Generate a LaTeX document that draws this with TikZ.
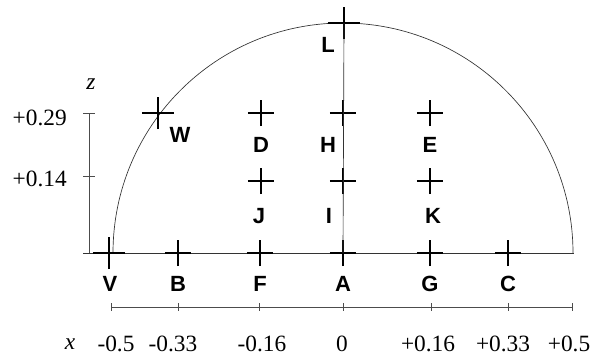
\documentclass[tikz,border=0pt]{standalone}
\usepackage{fontspec}
\setmainfont{Liberation Serif}
\setsansfont{Liberation Sans}
\usetikzlibrary{shapes.misc}
\tikzset{
  mk/.style={draw, cross out, rotate=45, line width=1.6pt, inner sep=0pt, outer sep=0pt, minimum size=13.8pt},
  bigmk/.style={mk, minimum size=17pt},
  lbl/.style={font=\sffamily\bfseries\fontsize{16.5}{18}\selectfont},
  num/.style={font=\fontsize{17.5}{19}\selectfont, inner sep=0pt},
  thin axis/.style={draw=black!70, line width=0.5pt},
}
\begin{document}
\begin{tikzpicture}[x=0.75pt, y=-0.75pt]
  \useasboundingbox (0,0) rectangle (592,361);
  % dome and base line
  \draw[line width=0.5pt, black!80] (113,253) arc[start angle=180, end angle=0, radius=172.5pt];
  \coordinate (b0) at (83,253);
  \coordinate (b1) at (574,253);
  \draw[line width=0.6pt, black!80] (b0) -- (b1);
  % measuring points
  \draw
    (109,253) node[bigmk] (V){}
    (178,253) node[mk] (B){}
    (260,253) node[mk] (F){}
    (343,253) node[mk] (A){}
    (430,253) node[mk] (G){}
    (508,253) node[mk] (C){}
    (261,181) node[mk] (J){}
    (343,181) node[mk] (I){}
    (430,181) node[mk] (K){}
    (261,113) node[mk] (D){}
    (343,113) node[mk] (H){}
    (430,113) node[mk] (E){}
    (158,113) node[bigmk] (W){}
    (344,23) node[bigmk] (L){};
  \draw[line width=0.5pt, black!80] (L.center) -- (A.center);
  % point names
  \draw[lbl]
    (110,284) node (tV){V}
    (178,284) node (tB){B}
    (260,284) node (tF){F}
    (343,284) node (tA){A}
    (430,284) node (tG){G}
    (508,284) node (tC){C}
    (259,216) node (tJ){J}
    (329,216) node (tI){I}
    (433,216) node (tK){K}
    (261,145) node (tD){D}
    (328,145) node (tH){H}
    (430,145) node (tE){E}
    (180,135) node (tW){W}
    (328,45) node (tL){L};
  % z axis
  \coordinate (z0) at (89,253);
  \coordinate (z1) at (89,113);
  \coordinate (z2) at (89,176);
  \draw[thin axis] (z0) -- (z1);
  \draw[thin axis] ([xshift=-4.5pt]z1) -- ([xshift=4.5pt]z1);
  \draw[thin axis] ([xshift=-4.5pt]z2) -- ([xshift=4.5pt]z2);
  \draw[num] (91,84) node (zl){\itshape z}
    (67,118) node[anchor=east] (z29){+0.29}
    (67,179) node[anchor=east] (z14){+0.14};
  % x axis
  \coordinate (x0) at (111,307);
  \coordinate (x1) at (572,307);
  \draw[thin axis] (x0) -- (x1);
  \foreach \px in {111,178,259,343,431,508,572}
    \draw[thin axis] (\px,303) -- (\px,311);
  \draw[num]
    (70,344) node (xl){\itshape x}
    (116,344) node (xa){-0.5}
    (173,344) node (xb){-0.33}
    (262,344) node (xc){-0.16}
    (342,344) node (xd){0}
    (428,344) node (xe){+0.16}
    (503,344) node (xf){+0.33}
    (569,344) node (xg){+0.5};
\end{tikzpicture}
\end{document}
